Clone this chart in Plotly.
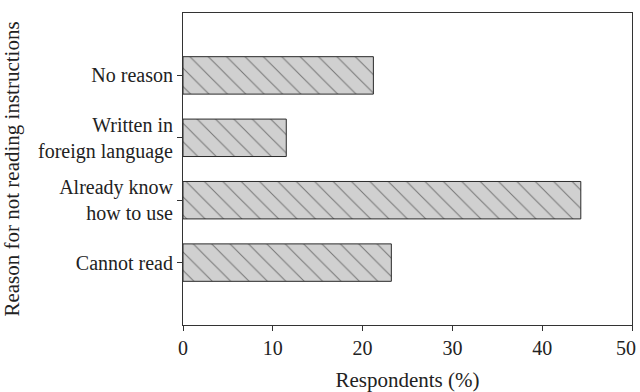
import plotly.graph_objects as go

categories = ["Cannot read", "Already know<br>how to use", "Written in<br>foreign language", "No reason"]
values = [23.2, 44.3, 11.5, 21.2]
x_ticks = [0, 10, 20, 30, 40, 50]
x_tick_labels = ["0", "10", "20", "30", "40", "50"]

font_family = "Liberation Serif, DejaVu Serif, serif"

fig = go.Figure()
fig.add_trace(go.Bar(
    y=list(range(len(categories))),
    x=values,
    orientation="h",
    width=0.6,
    marker=dict(
        color="#d0d0d0",
        line=dict(color="#2a2a2a", width=1),
        pattern=dict(shape="\\", fgcolor="#1e1e1e", size=13, solidity=0.08),
    ),
    hoverinfo="skip",
))
# empty trace that anchors an overlay axis carrying only the edge label
fig.add_trace(go.Scatter(x=[], y=[], xaxis="x2", yaxis="y", showlegend=False, hoverinfo="skip"))

fig.update_layout(
    width=640, height=392,
    margin=dict(l=183, r=8, t=13, b=67),
    paper_bgcolor="white", plot_bgcolor="white",
    font=dict(family=font_family, size=20, color="#222222"),
    showlegend=False,
)
fig.update_xaxes(
    range=[0, 50], tickvals=x_ticks, ticktext=x_tick_labels[:-1] + [""],
    ticks="outside", ticklen=5, tickcolor="#333333",
    tickfont=dict(size=20), ticklabeloverflow="allow",
    showline=True, linecolor="#333333", linewidth=1, mirror=True,
    showgrid=False, zeroline=False, automargin=False,
    title=dict(text="Respondents (%)", font=dict(size=21)),
)
fig.update_layout(xaxis2=dict(
    overlaying="x", side="bottom", anchor="y", range=[0, 50],
    tickvals=x_ticks[-1:], ticktext=x_tick_labels[-1:], ticklabelshift=-6,
    ticks="outside", ticklen=5, tickcolor="rgba(0,0,0,0)",
    tickfont=dict(size=20), ticklabeloverflow="allow",
    showline=False, showgrid=False, zeroline=False, automargin=False,
))
fig.update_yaxes(
    range=[-1, 4], tickvals=list(range(len(categories))), ticktext=categories,
    ticks="outside", ticklen=5, tickcolor="#333333",
    tickfont=dict(size=20), ticklabeloverflow="allow",
    showline=True, linecolor="#333333", linewidth=1, mirror=True,
    showgrid=False, zeroline=False, automargin=False,
    title=dict(text="Reason for not reading instructions", font=dict(size=21)),
)

fig.write_html(
    "out.html",
    config={"displayModeBar": False},
    post_script="document.body.style.margin='0';document.body.style.overflow='hidden';",
)
